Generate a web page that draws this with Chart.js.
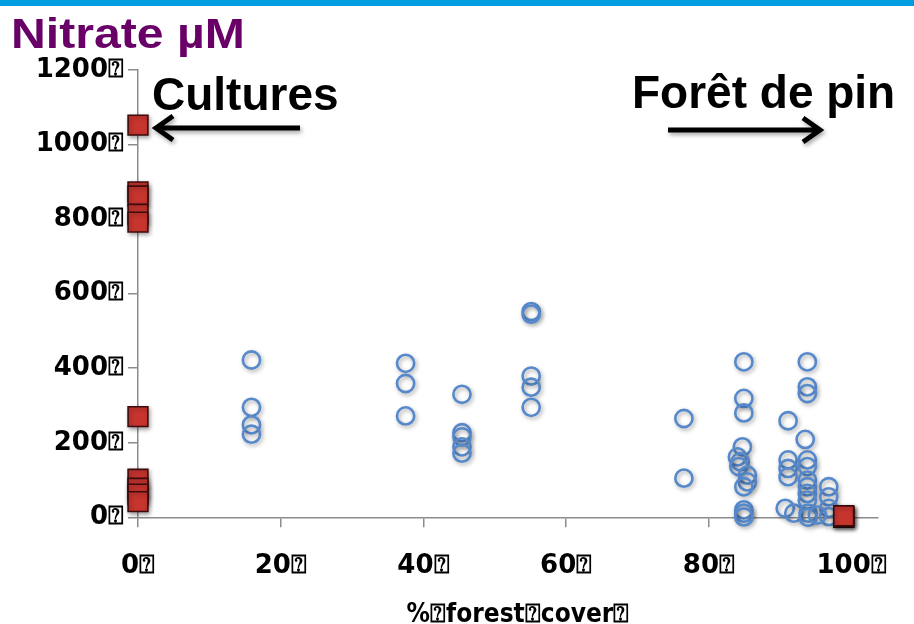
<!DOCTYPE html>
<html>
<head>
<meta charset="utf-8">
<script src="https://cdn.jsdelivr.net/npm/chart.js@4.4.1/dist/chart.umd.min.js"></script>
<style>
  html, body { margin: 0; padding: 0; background: #fff; }
  canvas { display: block; }
</style>
</head>
<body>
<canvas id="c" width="914" height="624"></canvas>
<script>
// Glyph that follows every label
const BOX = '\u2370';

// Axis ticks
const xTicks = [0, 20, 40, 60, 80, 100];
const yTicks = [0, 200, 400, 600, 800, 1000, 1200];

// Reference sites: cropland (0 % forest) and pine forest (~99 %)
const refCover   = [0, 0, 0, 0, 0, 0, 0, 0, 0, 0, 98.9, 98.9, 98.9];
const refNitrate = [1052, 873, 862, 813, 792, 270, 102, 78, 62, 42, 0, 2, 4];

// Stream sampling sites
const siteCover = [
  15.9, 15.9, 15.9, 15.9,
  37.5, 37.5, 37.5,
  45.4, 45.4, 45.4, 45.4, 45.4,
  55.1, 55.1, 55.1, 55.1, 55.1,
  76.5, 76.5,
  84.9, 84.9, 84.9, 84.7, 84.0, 84.4, 84.2, 85.4, 85.4, 84.9, 84.9, 84.9, 84.9,
  91.1, 91.1, 91.1, 91.1, 90.7, 91.9,
  93.8, 93.8, 93.8, 93.5, 93.8, 93.8, 93.8, 93.8, 93.8, 93.8, 93.9, 93.9,
  96.8, 96.8, 96.8, 96.8, 95.2
];
const siteNitrate = [
  422, 295, 248, 223,
  413, 359, 272,
  330, 227, 216, 189, 172,
  552, 545, 379, 349, 295,
  265, 105,
  417, 319, 280, 189, 162, 149, 136, 113, 95, 82, 20, 11, 1,
  259, 154, 131, 109, 24, 11,
  417, 350, 332, 209, 154, 136, 100, 82, 64, 46, 11, 0,
  82, 55, 24, 2, 6
];

const tickFont = { family: "'DejaVu Sans', sans-serif", size: 26, weight: 'bold' };
const axisGrey = '#8c8c8c';

// Soft drop shadow under the markers
const markerShadow = {
  id: 'markerShadow',
  beforeDatasetDraw(chart) {
    const ctx = chart.ctx;
    ctx.save();
    ctx.shadowColor = 'rgba(0,0,0,0.35)';
    ctx.shadowBlur = 4;
    ctx.shadowOffsetX = 1.5;
    ctx.shadowOffsetY = 2;
  },
  afterDatasetDraw(chart) {
    chart.ctx.restore();
  }
};

function arrow(ctx, x0, x1, y) {
  const dir = Math.sign(x1 - x0);
  ctx.beginPath();
  ctx.moveTo(x0, y);
  ctx.lineTo(x1 - dir * 2, y);
  ctx.moveTo(x1 - dir * 17, y - 12);
  ctx.lineTo(x1, y);
  ctx.lineTo(x1 - dir * 17, y + 12);
  ctx.stroke();
}

// Page band, headings, annotations and axis caption
const decor = {
  id: 'decor',
  beforeDraw(chart) {
    const ctx = chart.ctx;
    ctx.save();
    ctx.fillStyle = '#ffffff';
    ctx.fillRect(0, 0, chart.width, chart.height);
    ctx.fillStyle = '#009ee0';
    ctx.fillRect(0, 0, chart.width, 6);
    ctx.restore();
  },
  afterDraw(chart) {
    const ctx = chart.ctx;
    ctx.save();
    ctx.textBaseline = 'alphabetic';
    ctx.textAlign = 'left';

    // Heading
    ctx.save();
    ctx.fillStyle = '#680068';
    ctx.font = "bold 43px 'Liberation Sans', Arial, sans-serif";
    ctx.translate(11, 48);
    ctx.scale(1.12, 1);
    ctx.fillText('Nitrate \u00b5M', 0, 0);
    ctx.restore();

    // Annotations
    ctx.fillStyle = '#000';
    ctx.font = "bold 46px 'Liberation Sans', Arial, sans-serif";
    ctx.fillText('Cultures', 152, 110);
    ctx.fillText('For\u00eat de pin', 632, 108);

    ctx.save();
    ctx.strokeStyle = '#000';
    ctx.lineWidth = 5;
    ctx.lineJoin = 'miter';
    ctx.shadowColor = 'rgba(0,0,0,0.35)';
    ctx.shadowBlur = 4;
    ctx.shadowOffsetX = 1.5;
    ctx.shadowOffsetY = 2.5;
    arrow(ctx, 300, 156, 128);
    arrow(ctx, 668, 820, 130);
    ctx.restore();

    // Axis caption
    ctx.fillStyle = '#000';
    ctx.textAlign = 'center';
    ctx.font = "bold 26px 'Liberation Sans Narrow', 'DejaVu Sans Condensed', sans-serif";
    ctx.fillText('%' + BOX + 'forest' + BOX + 'cover' + BOX, 518, 622);
    ctx.restore();
  }
};

new Chart(document.getElementById('c'), {
  type: 'scatter',
  data: {
    datasets: [
      {
        label: 'ref',
        data: refCover.map((x, i) => ({ x, y: refNitrate[i] })),
        pointStyle: 'rect',
        pointRadius: 14,
        backgroundColor: '#c8352f',
        borderColor: '#3c0c0c',
        borderWidth: 1.6,
        clip: false
      },
      {
        label: 'sites',
        data: siteCover.map((x, i) => ({ x, y: siteNitrate[i] })),
        pointStyle: 'circle',
        pointRadius: 8.6,
        backgroundColor: 'rgba(255,255,255,0)',
        borderColor: '#5689cc',
        borderWidth: 2.6,
        clip: false
      }
    ]
  },
  options: {
    responsive: false,
    animation: false,
    devicePixelRatio: 1,
    layout: { padding: { left: 0, right: 36, top: 70, bottom: 0 } },
    plugins: {
      legend: { display: false },
      tooltip: { enabled: false }
    },
    scales: {
      x: {
        type: 'linear',
        min: 0,
        max: 103.7,
        afterBuildTicks: s => { s.ticks = xTicks.map(v => ({ value: v })); },
        afterFit: s => { s.height = 106.7; },
        ticks: {
          color: '#000',
          font: tickFont,
          padding: 23,
          maxRotation: 0,
          autoSkip: false,
          callback: v => v + BOX
        },
        grid: { drawOnChartArea: false, drawTicks: true, tickLength: 10, color: axisGrey, lineWidth: 1.5 },
        border: { display: true, color: axisGrey, width: 1.5 }
      },
      y: {
        type: 'linear',
        min: 0,
        max: 1200,
        afterBuildTicks: s => { s.ticks = yTicks.map(v => ({ value: v })); },
        afterFit: s => { s.width = 138; },
        ticks: {
          color: '#000',
          font: tickFont,
          padding: 4,
          autoSkip: false,
          callback: v => v + BOX
        },
        grid: { drawOnChartArea: false, drawTicks: true, tickLength: 10, color: axisGrey, lineWidth: 1.5 },
        border: { display: true, color: axisGrey, width: 1.5 }
      }
    }
  },
  plugins: [decor, markerShadow]
});
</script>
</body>
</html>
